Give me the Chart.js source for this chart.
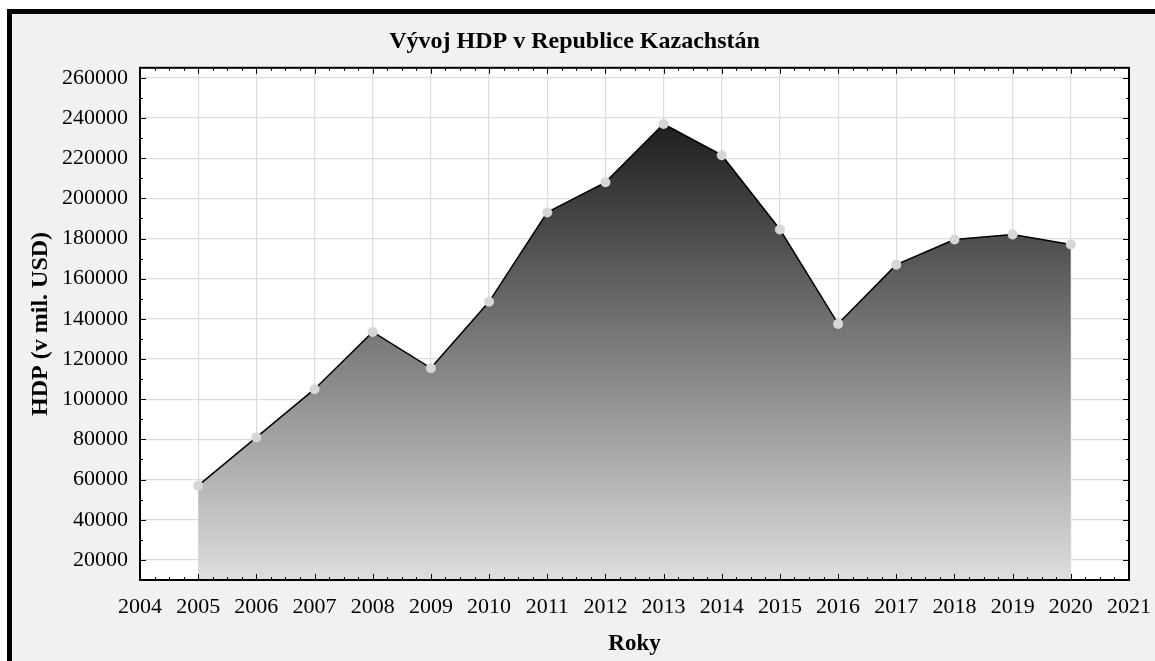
<!DOCTYPE html>
<html>
<head>
<meta charset="utf-8">
<script src="https://cdn.jsdelivr.net/npm/chart.js@4.4.1/dist/chart.umd.min.js"></script>
<style>
  html, body { margin: 0; padding: 0; background: #fff; }
  #wrap { position: relative; width: 1155px; height: 661px; overflow: hidden; }
  #frame { position: absolute; left: 7px; top: 9px; right: 0; bottom: 0;
           background: #f1f1f1; border-left: 5px solid #000; border-top: 5px solid #000; }
  #c { position: absolute; left: 0; top: 0; }
</style>
</head>
<body>
<div id="wrap">
  <div id="frame"></div>
  <canvas id="c" width="1155" height="661"></canvas>
</div>
<script>
'use strict';

var years = [2005, 2006, 2007, 2008, 2009, 2010, 2011, 2012, 2013, 2014, 2015, 2016, 2017, 2018, 2019, 2020];
var hdp   = [57000, 81000, 105000, 133500, 115500, 148500, 193000, 208000, 237000, 221500, 184500, 137500, 167000, 179500, 182000, 177000];
var xTicks = [2004, 2005, 2006, 2007, 2008, 2009, 2010, 2011, 2012, 2013, 2014, 2015, 2016, 2017, 2018, 2019, 2020, 2021];
var yTicks = [20000, 40000, 60000, 80000, 100000, 120000, 140000, 160000, 180000, 200000, 220000, 240000, 260000];

var serif = "'Liberation Serif', 'Times New Roman', serif";

var points = years.map(function(y, i){ return { x: y, y: hdp[i] }; });

// white plot area, frame and inward ticks (major + minor)
var plotFrame = {
	id: 'plotFrame',
	beforeDraw: function(chart) {
		var a = chart.chartArea, ctx = chart.ctx;
		ctx.save();
		ctx.fillStyle = '#fff';
		ctx.fillRect(a.left, a.top, a.right - a.left, a.bottom - a.top);
		ctx.restore();
	},
	afterDraw: function(chart) {
		var a = chart.chartArea, ctx = chart.ctx;
		var xs = chart.scales.x, ys = chart.scales.y;
		ctx.save();
		ctx.strokeStyle = '#000';
		ctx.lineWidth = 1;
		ctx.beginPath();
		var i, v, px, len;
		for (i = 0; i < xTicks.length - 1; i++) {
			for (var q = 0; q < 4; q++) {
				v = xTicks[i] + q / 4;
				px = Math.round(xs.getPixelForValue(v)) + 0.5;
				len = q === 0 ? 6 : 3;
				ctx.moveTo(px, a.bottom); ctx.lineTo(px, a.bottom - len);
				ctx.moveTo(px, a.top); ctx.lineTo(px, a.top + len);
			}
		}
		for (v = 10000; v <= 265000; v += 10000) {
			px = Math.round(ys.getPixelForValue(v)) + 0.5;
			len = (v % 20000 === 0) ? 6 : 3;
			ctx.moveTo(a.left, px); ctx.lineTo(a.left + len, px);
			ctx.moveTo(a.right, px); ctx.lineTo(a.right - len, px);
		}
		ctx.stroke();
		ctx.lineWidth = 2;
		ctx.strokeRect(a.left, a.top, a.right - a.left, a.bottom - a.top);
		ctx.restore();
	}
};

var ctx = document.getElementById('c').getContext('2d');
new Chart(ctx, {
	type: 'line',
	data: {
		datasets: [{
			label: 'HDP',
			data: points,
			borderColor: '#000',
			borderWidth: 1.5,
			tension: 0,
			fill: 'start',
			backgroundColor: function(c) {
				var ch = c.chart, a = ch.chartArea;
				if (!a) { return '#888'; }
				var top = ch.scales.y.getPixelForValue(Math.max.apply(null, hdp));
				var g = ch.ctx.createLinearGradient(0, top, 0, a.bottom);
				g.addColorStop(0, '#1e1e1e');
				g.addColorStop(1, '#dedede');
				return g;
			},
			pointRadius: 5,
			pointBackgroundColor: '#d6d6d6',
			pointBorderColor: '#d6d6d6',
			pointBorderWidth: 0
		}]
	},
	options: {
		responsive: false,
		animation: false,
		layout: { padding: { left: 20, right: 26, top: 0, bottom: 0 } },
		plugins: {
			legend: { display: false },
			tooltip: { enabled: false },
			title: {
				display: true,
				text: 'Vývoj HDP v Republice Kazachstán',
				color: '#000',
				font: { family: serif, size: 24, weight: 'bold' },
				padding: { top: 27, bottom: 12 }
			}
		},
		scales: {
			x: {
				type: 'linear',
				min: 2004,
				max: 2021,
				afterBuildTicks: function(s) { s.ticks = xTicks.map(function(v){ return { value: v }; }); },
				afterFit: function(s) { s.height = 81; s.paddingLeft = 0; s.paddingRight = 0; },
				grid: { color: '#dcdcdc', lineWidth: 1.2, drawTicks: false },
				border: { display: false },
				ticks: {
					color: '#000',
					font: { family: serif, size: 22 },
					padding: 14,
					maxRotation: 0,
					autoSkip: false,
					callback: function(v){ return String(v); }
				},
				title: {
					display: true,
					text: 'Roky',
					color: '#000',
					font: { family: serif, size: 23, weight: 'bold' },
					padding: { top: 0, bottom: 3 }
				}
			},
			y: {
				type: 'linear',
				min: 10000,
				max: 265000,
				afterBuildTicks: function(s) { s.ticks = yTicks.map(function(v){ return { value: v }; }); },
				afterFit: function(s) { s.width = 120; },
				grid: { color: '#dcdcdc', lineWidth: 1.2, drawTicks: false },
				border: { display: false },
				ticks: {
					color: '#000',
					font: { family: serif, size: 22 },
					padding: 12,
					callback: function(v){ return String(v); }
				},
				title: {
					display: true,
					text: 'HDP (v mil. USD)',
					color: '#000',
					font: { family: serif, size: 24, weight: 'bold' },
					padding: { top: 6, bottom: 0 }
				}
			}
		}
	},
	plugins: [plotFrame]
});
</script>
</body>
</html>
